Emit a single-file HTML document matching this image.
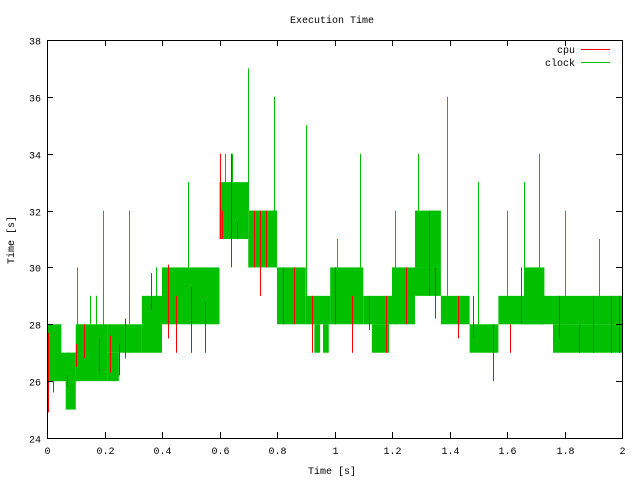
<!DOCTYPE html>
<html><head><meta charset="utf-8"><style>
body{margin:0;background:#fff}
svg text{font-family:"Liberation Mono","DejaVu Sans Mono",monospace;font-size:10px;fill:#000}
</style></head><body>
<svg id="chart" width="640" height="480">
<text x="332" y="23" text-anchor="middle">Execution Time</text>
<text x="332" y="474" text-anchor="middle">Time [s]</text>
<text x="14" y="240" text-anchor="middle" transform="rotate(-90 14 240)">Time [s]</text>
<g id="marks"></g>
<g id="axes"></g>
<g>
<text x="575" y="53" text-anchor="end">cpu</text>
<line x1="581" y1="49.5" x2="610" y2="49.5" stroke="#f00"/>
<text x="575" y="66" text-anchor="end">clock</text>
<line x1="581" y1="62.5" x2="610" y2="62.5" stroke="#00c000"/>
</g>
</svg>
<script>
// clock bands: [start s, end s, low, high]
const bandStart = [0.0,0.0,0.065,0.1,0.21,0.21,0.33,0.4,0.6,0.7,0.8,0.9,0.93,0.96,0.985,1.1,1.13,1.2,1.28,1.28,1.37,1.47,1.57,1.66,1.72,1.76];
const bandEnd   = [0.1,0.05,0.1,0.21,0.33,0.25,0.4,0.6,0.7,0.8,0.9,0.985,0.95,0.98,1.1,1.2,1.19,1.28,1.37,1.37,1.47,1.57,1.73,1.73,2.0,2.0];
const bandLow   = [26,26,25,26,27,26,27,28,31,30,28,28,27,27,28,28,27,28,30,29,28,27,28,28,28,27];
const bandHigh  = [27,28,27,28,28,27,29,30,33,32,30,29,28,28,30,29,28,30,32,30,29,28,29,30,29,28];
// clock spikes: [time s, low, high]
const spikeT    = [0.0,0.002,0.105,0.195,0.285,0.38,0.49,0.62,0.645,0.7,0.79,0.82,0.9,1.01,1.09,1.21,1.29,1.3,1.39,1.5,1.6,1.66,1.71,1.8,1.92,0.15,0.17,0.545];
const spikeLo   = [25,25,26,27,27,29,30,33,33,32,30,29,28,29,29,28,30,31,29,28,28,28,28,28,28,28,28,30];
const spikeHi   = [31,28,30,32,32,30,33,34,34,37,36,29,35,31,34,32,34,32,36,33,32,33,34,32,31,29,29,30];
// cpu visible fragments: [time s, low, high]
const cpuT  = [0.002,0.02,0.07,0.1,0.13,0.18,0.22,0.25,0.27,0.36,0.42,0.45,0.5,0.55,0.6,0.61,0.64,0.66,0.72,0.74,0.76,0.82,0.86,0.92,1.0,1.06,1.12,1.18,1.25,1.33,1.35,1.43,1.48,1.55,1.61,1.65,1.78,1.85,1.9,1.96,1.99];
const cpuLo = [24.9,25.6,25.8,26.5,26.8,26.3,26.3,26.2,26.8,28.5,27.5,27,27,27,31,31,30,31,30,29,30,28,28,27,28,27,27.8,27,28,29,28.2,27.5,27.5,26,27,28,27.5,27,27,27,27];
const cpuHi = [27.7,26,26.2,27.3,28,27.5,27.6,27.3,28.2,29.8,30.1,29,29.3,28.8,34,32,34,31.6,32,32,32,30,30,29,30,29,29,29,30,32,30,29,29,28,28,30,29,28,29,29,29];

const X0=47,X1=622,Y0=438,Y1=40;
const xs=t=>X0+t/2*(X1-X0);
const ys=v=>Y0-(v-24)/14*(Y0-Y1);
const px=t=>Math.round(xs(t))+0.5;
const NS="http://www.w3.org/2000/svg";
const marks=document.getElementById('marks');
const axes=document.getElementById('axes');
function mk(tag,attrs,parent){const e=document.createElementNS(NS,tag);for(const k in attrs)e.setAttribute(k,attrs[k]);parent.appendChild(e);return e;}

for(let i=0;i<bandStart.length;i++){
  const r=mk('rect',{x:xs(bandStart[i]),y:ys(bandHigh[i]),width:xs(bandEnd[i])-xs(bandStart[i]),height:ys(bandLow[i])-ys(bandHigh[i]),fill:'#00c000'},marks);
  
  
}
for(let i=0;i<spikeT.length;i++){
  const l=mk('line',{x1:px(spikeT[i]),x2:px(spikeT[i]),y1:ys(spikeLo[i]),y2:ys(spikeHi[i]),stroke:'#00c000','stroke-width':1},marks);
  
  
}
for(let i=0;i<cpuT.length;i++){
  const l=mk('line',{x1:px(cpuT[i]),x2:px(cpuT[i]),y1:ys(cpuLo[i]),y2:ys(cpuHi[i]),stroke:'#f00','stroke-width':1},marks);
  
  
}

const xTicks=[0,0.2,0.4,0.6,0.8,1,1.2,1.4,1.6,1.8,2];
const yTicks=[24,26,28,30,32,34,36,38];
const frame=mk('rect',{x:X0+0.5,y:Y1+0.5,width:X1-X0,height:Y0-Y1,fill:'none',stroke:'#000'},axes);


xTicks.forEach(t=>{
  const x=px(t);
  mk('line',{x1:x,x2:x,y1:Y0,y2:Y0-6,stroke:'#000'},axes);
  mk('line',{x1:x,x2:x,y1:Y1,y2:Y1+6,stroke:'#000'},axes);
  const tx=mk('text',{x:x,y:Y0+16,'text-anchor':'middle'},axes);
  tx.textContent=String(t);
  
  
});
yTicks.forEach(v=>{
  const y=Math.round(ys(v))+0.5;
  mk('line',{x1:X0,x2:X0+6,y1:y,y2:y,stroke:'#000'},axes);
  mk('line',{x1:X1,x2:X1-6,y1:y,y2:y,stroke:'#000'},axes);
  const tx=mk('text',{x:X0-6,y:y+4,'text-anchor':'end'},axes);
  tx.textContent=String(v);
  
  
});
</script>
</body></html>
